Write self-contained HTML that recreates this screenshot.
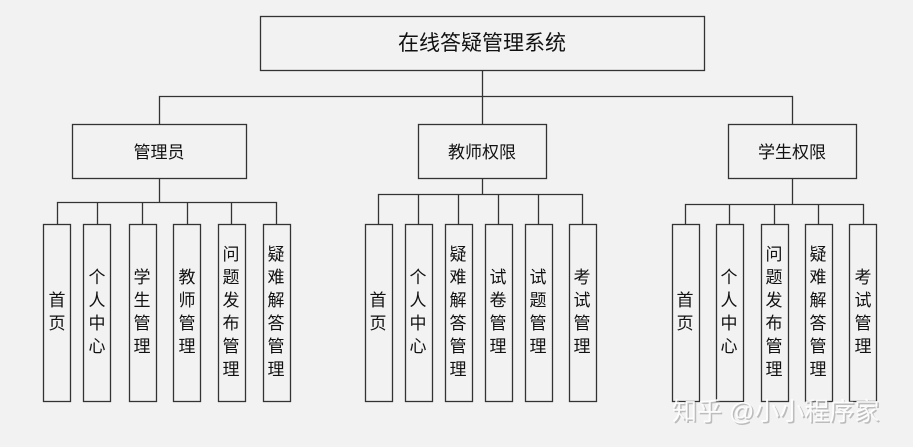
<!DOCTYPE html>
<html><head><meta charset="utf-8"><style>
html,body{margin:0;padding:0;background:#f2f2f2;}
svg{display:block;}
text{font-family:"Liberation Sans","Noto Sans CJK SC","WenQuanYi Zen Hei",sans-serif;fill:#111;}
</style></head><body>
<svg width="913" height="447" viewBox="0 0 913 447" xmlns="http://www.w3.org/2000/svg">
<rect width="913" height="447" fill="#f2f2f2"/>
<g stroke="#333" stroke-width="1.3" fill="none">
<rect x="260.5" y="16.5" width="444" height="54"/>
<path d="M482.5 70V96M159.5 124V96.5H792.5V124M482.5 96V124"/>
<rect x="72.5" y="124.5" width="174" height="54"/>
<rect x="418.5" y="124.5" width="128" height="54"/>
<rect x="728.5" y="124.5" width="128" height="54"/>
<path d="M159.5 178V202.5M57.5 224V202.5H276.5V224M97.5 202V224M142.5 202V224M187.5 202V224M231.5 202V224"/>
<path d="M482.5 178V194.5M378.5 224V194.5H582.5V224M418.5 194V224M458.5 194V224M498.5 194V224M538.5 194V224"/>
<path d="M792.5 178V204.5M685.5 224V204.5H863.5V224M729.5 204V224M774.5 204V224M818.5 204V224"/>
<rect x="43.5" y="224.5" width="27" height="177"/>
<rect x="83.5" y="224.5" width="27" height="177"/>
<rect x="129.5" y="224.5" width="27" height="177"/>
<rect x="173.5" y="224.5" width="27" height="177"/>
<rect x="218.5" y="224.5" width="27" height="177"/>
<rect x="263.5" y="224.5" width="27" height="177"/>
<rect x="365.5" y="224.5" width="27" height="177"/>
<rect x="405.5" y="224.5" width="27" height="177"/>
<rect x="445.5" y="224.5" width="27" height="177"/>
<rect x="485.5" y="224.5" width="27" height="177"/>
<rect x="525.5" y="224.5" width="27" height="177"/>
<rect x="569.5" y="224.5" width="27" height="177"/>
<rect x="672.5" y="224.5" width="27" height="177"/>
<rect x="716.5" y="224.5" width="27" height="177"/>
<rect x="761.5" y="224.5" width="27" height="177"/>
<rect x="805.5" y="224.5" width="27" height="177"/>
<rect x="849.5" y="224.5" width="27" height="177"/>
</g>
<g text-anchor="middle">
<text x="482" y="50" font-size="21">在线答疑管理系统</text>
<text x="159" y="158" font-size="17">管理员</text>
<text x="482" y="158" font-size="17">教师权限</text>
<text x="792" y="158" font-size="17">学生权限</text>
</g>
<g text-anchor="middle" font-size="17">
<!-- admin -->
<text x="57" y="306">首</text><text x="57" y="329">页</text>
<text x="97" y="283">个</text><text x="97" y="306">人</text><text x="97" y="329">中</text><text x="97" y="352">心</text>
<text x="142" y="283">学</text><text x="142" y="306">生</text><text x="142" y="329">管</text><text x="142" y="352">理</text>
<text x="187" y="283">教</text><text x="187" y="306">师</text><text x="187" y="329">管</text><text x="187" y="352">理</text>
<text x="231" y="260">问</text><text x="231" y="283">题</text><text x="231" y="306">发</text><text x="231" y="329">布</text><text x="231" y="352">管</text><text x="231" y="375">理</text>
<text x="276" y="260">疑</text><text x="276" y="283">难</text><text x="276" y="306">解</text><text x="276" y="329">答</text><text x="276" y="352">管</text><text x="276" y="375">理</text>
<!-- teacher -->
<text x="378" y="306">首</text><text x="378" y="329">页</text>
<text x="418" y="283">个</text><text x="418" y="306">人</text><text x="418" y="329">中</text><text x="418" y="352">心</text>
<text x="458" y="260">疑</text><text x="458" y="283">难</text><text x="458" y="306">解</text><text x="458" y="329">答</text><text x="458" y="352">管</text><text x="458" y="375">理</text>
<text x="498" y="283">试</text><text x="498" y="306">卷</text><text x="498" y="329">管</text><text x="498" y="352">理</text>
<text x="538" y="283">试</text><text x="538" y="306">题</text><text x="538" y="329">管</text><text x="538" y="352">理</text>
<text x="582" y="283">考</text><text x="582" y="306">试</text><text x="582" y="329">管</text><text x="582" y="352">理</text>
<!-- student -->
<text x="685" y="306">首</text><text x="685" y="329">页</text>
<text x="729" y="283">个</text><text x="729" y="306">人</text><text x="729" y="329">中</text><text x="729" y="352">心</text>
<text x="774" y="260">问</text><text x="774" y="283">题</text><text x="774" y="306">发</text><text x="774" y="329">布</text><text x="774" y="352">管</text><text x="774" y="375">理</text>
<text x="818" y="260">疑</text><text x="818" y="283">难</text><text x="818" y="306">解</text><text x="818" y="329">答</text><text x="818" y="352">管</text><text x="818" y="375">理</text>
<text x="863" y="283">考</text><text x="863" y="306">试</text><text x="863" y="329">管</text><text x="863" y="352">理</text>
</g>
<text x="672" y="420" font-size="25" style="fill:#999" opacity="0.6" transform="translate(1.5,1.5)">知乎 @小小程序家</text>
<text x="672" y="420" font-size="25" style="fill:#fff" opacity="0.9">知乎 @小小程序家</text>
</svg>
</body></html>
